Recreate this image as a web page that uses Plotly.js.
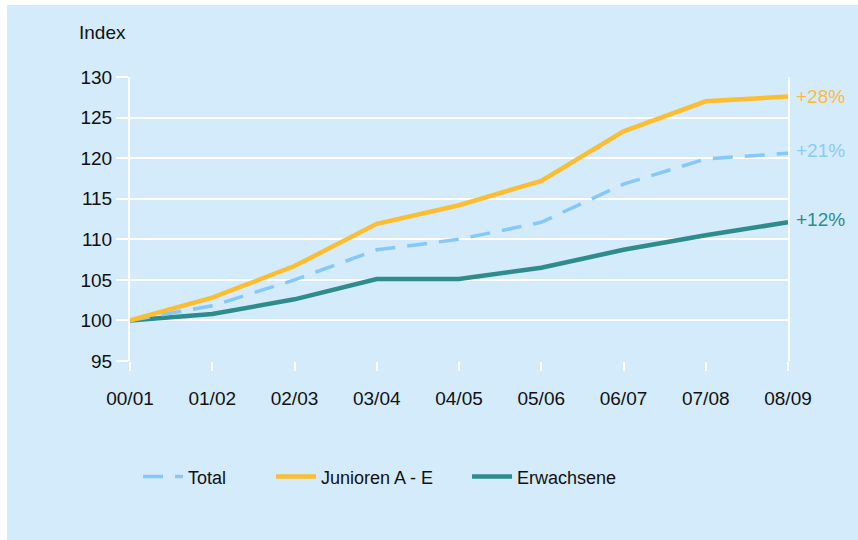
<!DOCTYPE html>
<html>
<head>
<meta charset="utf-8">
<script src="https://cdn.plot.ly/plotly-3.0.1.min.js"></script>
<style>
  html, body { margin: 0; padding: 0; background: #ffffff; }
  #chart { position: absolute; left: 7px; top: 5px; width: 851px; height: 535px; }
</style>
</head>
<body>
<div id="chart"></div>
<script>
const seasons = ["00/01", "01/02", "02/03", "03/04", "04/05", "05/06", "06/07", "07/08", "08/09"];
const total = [100, 101.8, 105.0, 108.7, 110.0, 112.1, 116.8, 119.9, 120.6];
const junioren = [100, 102.8, 106.7, 111.9, 114.2, 117.2, 123.3, 127.0, 127.6];
const erwachsene = [100, 100.8, 102.6, 105.1, 105.1, 106.5, 108.7, 110.5, 112.1];
const seriesNames = ["Total", "Junioren A - E", "Erwachsene"];
const endLabels = ["+21%", "+28%", "+12%"];
const yTicks = [95, 100, 105, 110, 115, 120, 125, 130];

const cTotal = "#86C8F8";
const cJun = "#FCBD30";
const cErw = "#2E8C8C";
const bg = "#D4EBFC";
const fontFam = "Liberation Sans, Arial, sans-serif";

const traces = [
  { x: seasons, y: erwachsene, name: seriesNames[2], type: "scatter", mode: "lines",
    line: { color: cErw, width: 4.5 }, legend: "legend3" },
  { x: seasons, y: total, name: seriesNames[0], type: "scatter", mode: "lines",
    line: { color: cTotal, width: 3.5, dash: "20px,12px" }, legend: "legend" },
  { x: seasons, y: junioren, name: seriesNames[1], type: "scatter", mode: "lines",
    line: { color: cJun, width: 4.5 }, legend: "legend2" }
];

const last = seasons.length - 1;
const annotations = [
  { xref: "paper", yref: "paper", x: -0.0805, y: 1.155, xanchor: "left", yanchor: "middle",
    text: "Index", showarrow: false, font: { family: fontFam, size: 19, color: "#111111" } },
  { xref: "x", yref: "y", x: seasons[last], y: junioren[last], xanchor: "left", yanchor: "middle",
    xshift: 6, yshift: 0, text: endLabels[1], showarrow: false, font: { family: fontFam, size: 19, color: "#F9BC3C" } },
  { xref: "x", yref: "y", x: seasons[last], y: total[last], xanchor: "left", yanchor: "middle",
    xshift: 6, yshift: 3, text: endLabels[0], showarrow: false, font: { family: fontFam, size: 19, color: "#8BCBF5" } },
  { xref: "x", yref: "y", x: seasons[last], y: erwachsene[last], xanchor: "left", yanchor: "middle",
    xshift: 6, yshift: 3, text: endLabels[2], showarrow: false, font: { family: fontFam, size: 19, color: cErw } }
];

const legendBase = {
  orientation: "h", yanchor: "middle", xanchor: "left", y: -0.408,
  bgcolor: "rgba(0,0,0,0)", borderwidth: 0, itemwidth: 40,
  font: { family: fontFam, size: 18, color: "#111111" }
};

const layout = {
  width: 851, height: 535,
  margin: { l: 123, r: 70, t: 72, b: 179, pad: 0 },
  paper_bgcolor: bg, plot_bgcolor: bg,
  font: { family: fontFam, size: 19, color: "#111111" },
  showlegend: true,
  legend: Object.assign({}, legendBase, { x: 0.0122 }),
  legend2: Object.assign({}, legendBase, { x: 0.2143 }),
  legend3: Object.assign({}, legendBase, { x: 0.5122 }),
  xaxis: {
    type: "category", range: [0, last], showgrid: false, zeroline: false,
    showline: false, ticks: "outside", ticklen: 9, tickwidth: 2, tickcolor: "#ffffff",
    ticklabelstandoff: 11, tickfont: { family: fontFam, size: 19, color: "#111111" },
    fixedrange: true
  },
  yaxis: {
    range: [95, 130], tickvals: yTicks, showgrid: true, gridcolor: "#ffffff", gridwidth: 2,
    zeroline: false, showline: true, linecolor: "#ffffff", linewidth: 2, mirror: true,
    ticks: "outside", ticklen: 12, tickwidth: 2, tickcolor: "#ffffff",
    tickfont: { family: fontFam, size: 19, color: "#111111" }, fixedrange: true
  },
  annotations: annotations
};

Plotly.newPlot("chart", traces, layout, { displayModeBar: false, staticPlot: true });
</script>
</body>
</html>
